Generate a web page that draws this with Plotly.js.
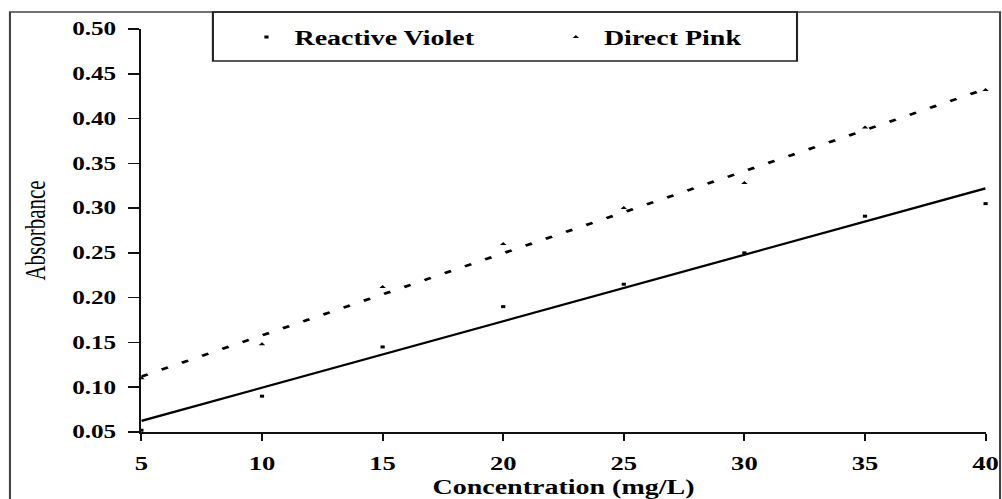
<!DOCTYPE html>
<html>
<head>
<meta charset="utf-8">
<script src="https://cdn.plot.ly/plotly-3.0.1.min.js"></script>
<style>
  html, body { margin: 0; padding: 0; background: #fff; overflow: hidden; }
  /* the chart is laid out narrow and widened, giving the broad serif lettering */
  #chart { width: 716px; height: 499px; transform: scaleX(1.4); transform-origin: 0 0; }
</style>
</head>
<body>
<div id="chart"></div>
<script>
// Calibration data: absorbance against dye concentration
const concentration = [5, 10, 15, 20, 25, 30, 35, 40];            // mg/L
const reactiveViolet = [0.052, 0.09, 0.145, 0.19, 0.215, 0.25, 0.291, 0.305];
const directPink     = [0.11, 0.148, 0.212, 0.26, 0.30, 0.328, 0.39, 0.432];
const seriesNames = ['Reactive Violet', 'Direct Pink'];
const xTickVals = [5, 10, 15, 20, 25, 30, 35, 40];
const yTickVals = [0.05, 0.10, 0.15, 0.20, 0.25, 0.30, 0.35, 0.40, 0.45, 0.50];

// Least-squares linear trendline over the measured points
function linearFit(xs, ys) {
  const n = xs.length;
  const mx = xs.reduce((a, b) => a + b, 0) / n;
  const my = ys.reduce((a, b) => a + b, 0) / n;
  let sxy = 0, sxx = 0;
  for (let i = 0; i < n; i++) {
    sxy += (xs[i] - mx) * (ys[i] - my);
    sxx += (xs[i] - mx) * (xs[i] - mx);
  }
  const slope = sxy / sxx;
  const intercept = my - slope * mx;
  const x0 = Math.min(...xs), x1 = Math.max(...xs);
  return { x: [x0, x1], y: [intercept + slope * x0, intercept + slope * x1] };
}

const fitRV = linearFit(concentration, reactiveViolet);
const fitDP = linearFit(concentration, directPink);

const serif = 'Liberation Serif, Times New Roman, serif';

const traces = [
  {
    x: concentration, y: reactiveViolet, name: seriesNames[0],
    type: 'scatter', mode: 'markers', cliponaxis: false,
    marker: { symbol: 'square', size: 3, color: '#000' }
  },
  {
    x: concentration, y: directPink, name: seriesNames[1],
    type: 'scatter', mode: 'markers', cliponaxis: false,
    marker: { symbol: 'triangle-up', size: 4, color: '#000' }
  },
  {
    x: fitRV.x, y: fitRV.y, type: 'scatter', mode: 'lines',
    showlegend: false, hoverinfo: 'skip', cliponaxis: false,
    line: { color: '#000', width: 2.2 }
  },
  {
    x: fitDP.x, y: fitDP.y, type: 'scatter', mode: 'lines',
    showlegend: false, hoverinfo: 'skip', cliponaxis: false,
    line: { color: '#000', width: 2.6, dash: '5px,11px' }
  }
];

const layout = {
  width: 716, height: 499, autosize: false,
  paper_bgcolor: '#fff', plot_bgcolor: '#fff',
  margin: { l: 101, r: 12, t: 29, b: 67, pad: 0 },
  font: { family: serif, color: '#000', size: 19 },
  showlegend: true,
  legend: {
    orientation: 'h', x: 0.115, xanchor: 'left', y: 0.98, yanchor: 'middle',
    bgcolor: 'rgba(0,0,0,0)', borderwidth: 0,
    entrywidth: 176, entrywidthmode: 'pixels',
    font: { family: serif, size: 20, weight: 'bold', color: '#000' }
  },
  xaxis: {
    range: [5, 40], tickvals: xTickVals, ticktext: xTickVals.map(String),
    showgrid: false, zeroline: false,
    showline: true, linecolor: '#111', linewidth: 2,
    ticks: 'outside', ticklen: 7, tickwidth: 1.3, tickcolor: '#111',
    tickfont: { family: serif, size: 19, weight: 'bold', color: '#000' },
    ticklabelstandoff: 6,
    title: { text: 'Concentration (mg/L)', standoff: 8,
             font: { family: serif, size: 20, weight: 'bold', color: '#000' } },
    automargin: false, fixedrange: true
  },
  yaxis: {
    range: [0.05, 0.50], tickvals: yTickVals, ticktext: yTickVals.map(v => v.toFixed(2)),
    showgrid: false, zeroline: false,
    showline: true, linecolor: '#111', linewidth: 1.4,
    ticks: 'outside', ticklen: 8, tickwidth: 1.6, tickcolor: '#111',
    tickfont: { family: serif, size: 18, weight: 'bold', color: '#000' },
    ticklabelstandoff: 5,
    title: { text: 'Absorbance', standoff: 13,
             font: { family: serif, size: 21, color: '#000' } },
    automargin: false, fixedrange: true
  },
  shapes: [
    // outer chart frame
    { type: 'rect', xref: 'paper', yref: 'paper', x0: -0.1557, x1: 1.0171, y0: -0.25, y1: 1.0422,
      line: { color: '#444', width: 1.5 }, fillcolor: 'rgba(0,0,0,0)', layer: 'above' },
    // legend box
    { type: 'rect', xref: 'paper', yref: 'paper', x0: 0.0847, x1: 0.7766, y0: 0.9206, y1: 1.0422,
      line: { color: '#222', width: 1.5 }, fillcolor: 'rgba(0,0,0,0)', layer: 'above' }
  ]
};

Plotly.newPlot('chart', traces, layout, { displayModeBar: false, staticPlot: true });
</script>
</body>
</html>
